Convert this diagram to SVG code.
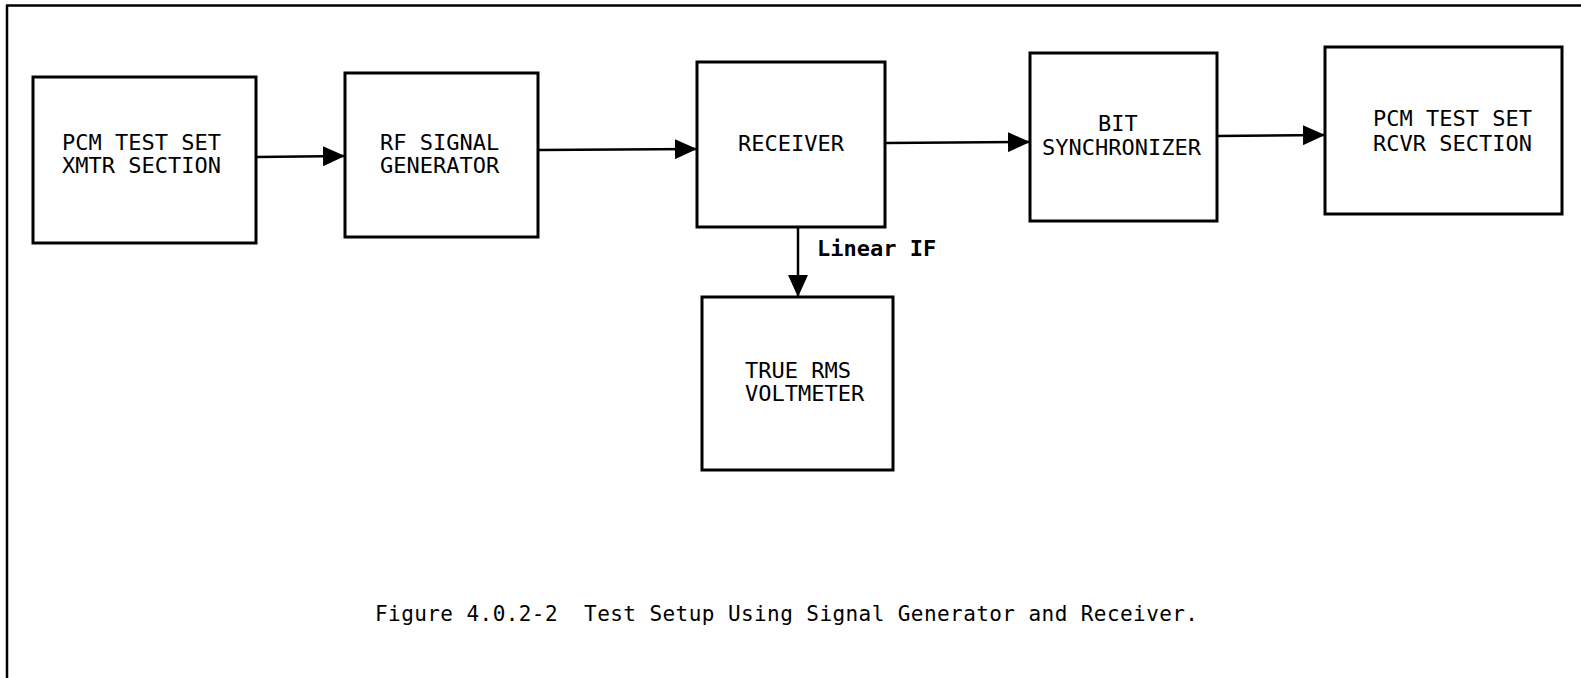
<svg xmlns="http://www.w3.org/2000/svg" width="1581" height="678" viewBox="0 0 1581 678">
<style>
.box{fill:#fff;stroke:#000;stroke-width:3}
.lbl{font-family:"DejaVu Sans Mono","Liberation Mono",monospace;font-size:22px;fill:#000}
.edge{stroke:#000;stroke-width:2.5;fill:none}
.elbl{font-family:"DejaVu Sans Mono","Liberation Mono",monospace;font-size:22px;font-weight:bold;fill:#000}
.cap{font-family:"DejaVu Sans Mono","Liberation Mono",monospace;font-size:21px;fill:#000}
</style>
<defs>
<marker id="arr" markerUnits="userSpaceOnUse" markerWidth="22" markerHeight="20" refX="22" refY="10" orient="auto">
<path d="M0,0 L22,10 L0,20 Z" fill="#000"/>
</marker>
</defs>
<rect width="1581" height="678" fill="#fff"/>
<g id="frame">
<line x1="6" y1="5.5" x2="1581" y2="5.5" stroke="#000" stroke-width="2.5"/>
<line x1="7" y1="5" x2="7" y2="678" stroke="#000" stroke-width="2.5"/>
</g>
<g id="connectors">
<line class="edge" x1="256" y1="157" x2="345" y2="156" marker-end="url(#arr)"/>
<line class="edge" x1="538" y1="150" x2="697" y2="149" marker-end="url(#arr)"/>
<line class="edge" x1="885" y1="143" x2="1030" y2="142" marker-end="url(#arr)"/>
<line class="edge" x1="1217" y1="136" x2="1325" y2="135" marker-end="url(#arr)"/>
<line class="edge" x1="798" y1="227" x2="798" y2="297" marker-end="url(#arr)"/>
<text class="elbl" x="817" y="256">Linear IF</text>
</g>
<g id="pcm-xmtr">
<rect class="box" x="33" y="77" width="223" height="166"/>
<text class="lbl" x="62" y="150">PCM TEST SET</text>
<text class="lbl" x="62" y="173">XMTR SECTION</text>
</g>
<g id="rf-gen">
<rect class="box" x="345" y="73" width="193" height="164"/>
<text class="lbl" x="380" y="150">RF SIGNAL</text>
<text class="lbl" x="380" y="173">GENERATOR</text>
</g>
<g id="receiver">
<rect class="box" x="697" y="62" width="188" height="165"/>
<text class="lbl" x="738" y="151">RECEIVER</text>
</g>
<g id="voltmeter">
<rect class="box" x="702" y="297" width="191" height="173"/>
<text class="lbl" x="745" y="378">TRUE RMS</text>
<text class="lbl" x="745" y="401">VOLTMETER</text>
</g>
<g id="bit-sync">
<rect class="box" x="1030" y="53" width="187" height="168"/>
<text class="lbl" x="1098" y="131">BIT</text>
<text class="lbl" x="1042" y="155">SYNCHRONIZER</text>
</g>
<g id="pcm-rcvr">
<rect class="box" x="1325" y="47" width="237" height="167"/>
<text class="lbl" x="1373" y="126">PCM TEST SET</text>
<text class="lbl" x="1373" y="151">RCVR SECTION</text>
</g>
<g id="caption">
<text class="cap" x="375" y="621" xml:space="preserve" textLength="823" lengthAdjust="spacing">Figure 4.0.2-2  Test Setup Using Signal Generator and Receiver.</text>
</g>
</svg>
